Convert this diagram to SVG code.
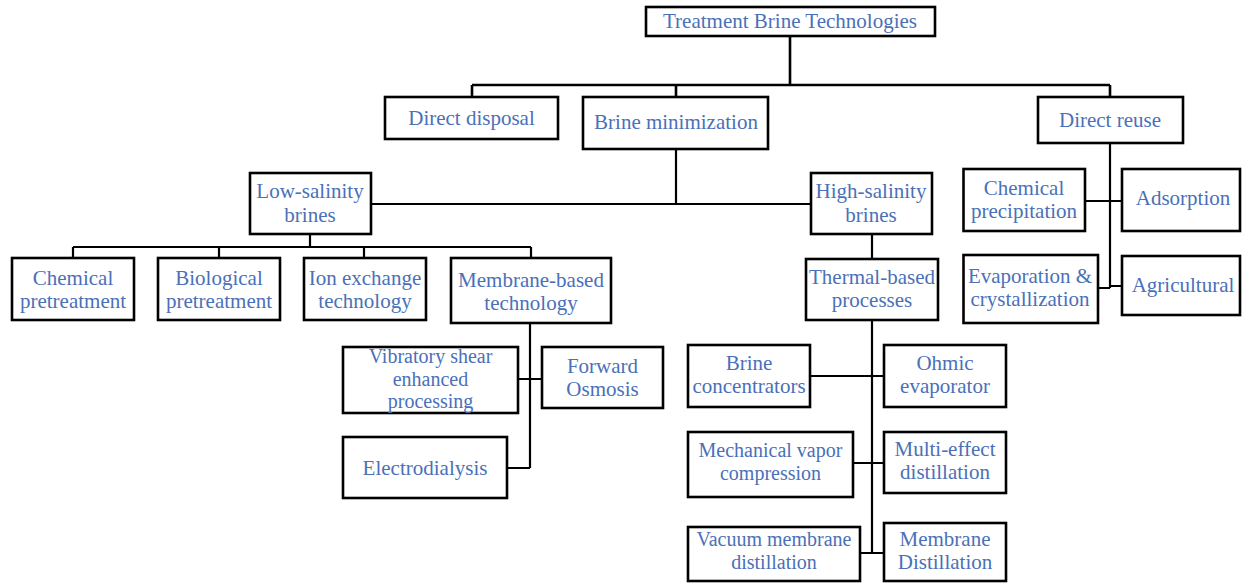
<svg xmlns="http://www.w3.org/2000/svg" width="1244" height="584" viewBox="0 0 1244 584">
<style>
.box{fill:#fff;stroke:#000;stroke-width:2.6}
.t{font-family:"Liberation Serif","Times New Roman",serif;font-size:21px;fill:#4a70b8;text-anchor:middle}
.s{font-size:20px}
.c{fill:none;stroke:#000;stroke-width:2.2}
</style>
<rect width="1244" height="584" fill="#fff"/>
<g id="connectors">
<path class="c" d="M790 36V85M472 85H1110M472 85V97M676 85V97M1110 85V97" style="stroke-width:2.6"/>
<path class="c" d="M676 149V204M371 204H811"/>
<path class="c" d="M310 234V247M73 247H531M73 247V258M219 247V258M364 247V258M531 247V258"/>
<path class="c" d="M530 323V468M518 379H542M507 468H530"/>
<path class="c" d="M872 234V259M872 320V553M810 376H884M853 463H884M860 553H884"/>
<path class="c" d="M1110 143V288M1085 201H1122M1098 288H1110M1110 286H1122"/>
</g>
<g id="n-root"><rect class="box" x="646" y="7" width="289" height="29"/><text class="t" x="790" y="28">Treatment Brine Technologies</text></g>
<g id="n-disposal"><rect class="box" x="385" y="97" width="173" height="42"/><text class="t" x="471.5" y="125">Direct disposal</text></g>
<g id="n-minimization"><rect class="box" x="583" y="97" width="185" height="52"/><text class="t" x="676" y="129">Brine minimization</text></g>
<g id="n-reuse"><rect class="box" x="1038" y="97" width="145" height="46"/><text class="t" x="1110" y="127">Direct reuse</text></g>
<g id="n-low"><rect class="box" x="250" y="173" width="121" height="61"/><text class="t" x="310" y="198">Low-salinity</text><text class="t" x="310" y="222">brines</text></g>
<g id="n-high"><rect class="box" x="811" y="173" width="121" height="61"/><text class="t" x="871" y="198">High-salinity</text><text class="t" x="871" y="222">brines</text></g>
<g id="n-chem-pre"><rect class="box" x="12" y="258" width="122" height="62"/><text class="t" x="73" y="285">Chemical</text><text class="t" x="73" y="308">pretreatment</text></g>
<g id="n-bio-pre"><rect class="box" x="158" y="258" width="122" height="62"/><text class="t" x="219" y="285">Biological</text><text class="t" x="219" y="308">pretreatment</text></g>
<g id="n-ion"><rect class="box" x="304" y="258" width="122" height="62"/><text class="t" x="365" y="285">Ion exchange</text><text class="t" x="365" y="308">technology</text></g>
<g id="n-membrane"><rect class="box" x="451" y="258" width="160" height="65"/><text class="t" x="531" y="287">Membrane-based</text><text class="t" x="531" y="310">technology</text></g>
<g id="n-vsep"><rect class="box" x="343" y="347" width="175" height="66"/><text class="t s" x="430.5" y="363">Vibratory shear</text><text class="t s" x="430.5" y="385.5">enhanced</text><text class="t s" x="430.5" y="408">processing</text></g>
<g id="n-fo"><rect class="box" x="542" y="347" width="121" height="61"/><text class="t" x="602.5" y="373">Forward</text><text class="t" x="602.5" y="396">Osmosis</text></g>
<g id="n-ed"><rect class="box" x="343" y="437" width="164" height="61"/><text class="t" x="425" y="475">Electrodialysis</text></g>
<g id="n-thermal"><rect class="box" x="806" y="259" width="132" height="61"/><text class="t" x="872" y="284">Thermal-based</text><text class="t" x="872" y="307">processes</text></g>
<g id="n-bc"><rect class="box" x="688" y="345" width="122" height="62"/><text class="t" x="749" y="370">Brine</text><text class="t" x="749" y="393">concentrators</text></g>
<g id="n-ohmic"><rect class="box" x="884" y="345" width="122" height="62"/><text class="t" x="945" y="370">Ohmic</text><text class="t" x="945" y="393">evaporator</text></g>
<g id="n-mvc"><rect class="box" x="688" y="432" width="165" height="65"/><text class="t s" x="770.5" y="457">Mechanical vapor</text><text class="t s" x="770.5" y="479.5">compression</text></g>
<g id="n-med"><rect class="box" x="884" y="432" width="122" height="61"/><text class="t" x="945" y="456">Multi-effect</text><text class="t" x="945" y="479">distillation</text></g>
<g id="n-vmd"><rect class="box" x="688" y="527" width="172" height="54"/><text class="t s" x="774" y="546">Vacuum membrane</text><text class="t s" x="774" y="568.5">distillation</text></g>
<g id="n-md"><rect class="box" x="884" y="523" width="122" height="58"/><text class="t" x="945" y="546">Membrane</text><text class="t" x="945" y="569">Distillation</text></g>
<g id="n-precip"><rect class="box" x="963.5" y="169" width="121.5" height="62"/><text class="t" x="1024" y="195">Chemical</text><text class="t" x="1024" y="218">precipitation</text></g>
<g id="n-adsorption"><rect class="box" x="1122" y="169" width="118" height="62"/><text class="t" x="1183" y="205">Adsorption</text></g>
<g id="n-evap"><rect class="box" x="963.5" y="255" width="134.5" height="68"/><text class="t" x="1030" y="283">Evaporation &amp;</text><text class="t" x="1030" y="306">crystallization</text></g>
<g id="n-agri"><rect class="box" x="1122" y="256" width="118" height="59"/><text class="t" x="1183" y="292">Agricultural</text></g>
</svg>
